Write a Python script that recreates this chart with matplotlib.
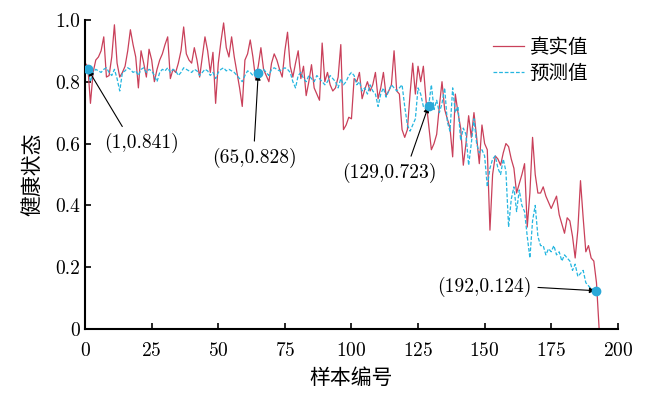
import matplotlib
matplotlib.use("Agg")
import matplotlib.pyplot as plt

plt.rcParams['font.family'] = ['cmr10', 'Noto Sans CJK SC']
plt.rcParams['axes.formatter.use_mathtext'] = True

# 真实值 (sample 0..193)
true_vals = [
    0.86, 0.85, 0.73, 0.83, 0.87, 0.88, 0.90, 0.945, 0.815, 0.82,
    0.88, 0.984, 0.86, 0.815, 0.83, 0.85, 0.90, 0.968, 0.92, 0.88,
    0.78, 0.90, 0.86, 0.815, 0.905, 0.87, 0.80, 0.84, 0.87, 0.89,
    0.92, 0.945, 0.81, 0.84, 0.83, 0.86, 0.90, 0.977, 0.89, 0.87,
    0.86, 0.91, 0.87, 0.815, 0.88, 0.945, 0.90, 0.83, 0.895, 0.73,
    0.86, 0.93, 0.99, 0.91, 0.88, 0.945, 0.88, 0.83, 0.78, 0.72,
    0.87, 0.89, 0.935, 0.88, 0.81, 0.85, 0.91, 0.84, 0.82, 0.80,
    0.86, 0.89, 0.87, 0.84, 0.815, 0.90, 0.96, 0.85, 0.815, 0.86,
    0.90, 0.81, 0.85, 0.755, 0.80, 0.855, 0.78, 0.76, 0.74, 0.925,
    0.80, 0.83, 0.79, 0.77, 0.78, 0.815, 0.92, 0.645, 0.66, 0.685,
    0.68, 0.81, 0.80, 0.83, 0.745, 0.775, 0.80, 0.77, 0.79, 0.83,
    0.745, 0.78, 0.83, 0.755, 0.77, 0.79, 0.90, 0.77, 0.76, 0.645,
    0.62, 0.645, 0.76, 0.86, 0.76, 0.85, 0.80, 0.85, 0.74, 0.66,
    0.58, 0.60, 0.63, 0.72, 0.80, 0.71, 0.68, 0.65, 0.557, 0.76,
    0.70, 0.65, 0.53, 0.60, 0.69, 0.62, 0.70, 0.62, 0.535, 0.66,
    0.60, 0.58, 0.32, 0.50, 0.56, 0.55, 0.53, 0.57, 0.60, 0.59,
    0.55, 0.52, 0.44, 0.47, 0.50, 0.535, 0.33, 0.44, 0.62, 0.50,
    0.44, 0.44, 0.46, 0.43, 0.41, 0.39, 0.41, 0.43, 0.37, 0.34,
    0.31, 0.36, 0.35, 0.30, 0.23, 0.32, 0.48, 0.36, 0.25, 0.27,
    0.23, 0.22, 0.15, 0.0,
]

# 预测值 (sample 0..192)
pred_vals = [
    0.845, 0.841, 0.80, 0.83, 0.84, 0.835, 0.83, 0.84, 0.845, 0.83,
    0.82, 0.84, 0.81, 0.77, 0.83, 0.835, 0.845, 0.84, 0.83, 0.835,
    0.82, 0.84, 0.845, 0.83, 0.84, 0.835, 0.82, 0.80, 0.83, 0.84,
    0.835, 0.845, 0.83, 0.84, 0.835, 0.82, 0.83, 0.845, 0.84, 0.835,
    0.83, 0.84, 0.835, 0.82, 0.83, 0.84, 0.835, 0.82, 0.83, 0.81,
    0.83, 0.84, 0.845, 0.835, 0.84, 0.835, 0.83, 0.82, 0.81, 0.80,
    0.82, 0.835, 0.83, 0.82, 0.82, 0.828, 0.83, 0.84, 0.83, 0.82,
    0.84, 0.845, 0.84, 0.835, 0.84, 0.845, 0.84, 0.83, 0.80, 0.78,
    0.82, 0.83, 0.81, 0.80, 0.82, 0.81, 0.80, 0.82, 0.81, 0.80,
    0.79, 0.80, 0.82, 0.81, 0.80, 0.78, 0.81, 0.79, 0.80, 0.82,
    0.83, 0.82, 0.79, 0.80, 0.77, 0.78, 0.76, 0.79, 0.77, 0.76,
    0.72, 0.76, 0.78, 0.75, 0.77, 0.79, 0.78, 0.77, 0.78, 0.79,
    0.72, 0.66, 0.64, 0.66, 0.68, 0.78, 0.76, 0.72, 0.71, 0.723,
    0.79, 0.71, 0.74, 0.70, 0.73, 0.78, 0.67, 0.64, 0.78, 0.70,
    0.72, 0.61, 0.65, 0.63, 0.53, 0.60, 0.68, 0.60, 0.57, 0.58,
    0.56, 0.46, 0.52, 0.55, 0.56, 0.52, 0.50, 0.55, 0.51, 0.33,
    0.42, 0.46, 0.38, 0.45, 0.40, 0.38, 0.30, 0.23, 0.35, 0.40,
    0.30, 0.27, 0.27, 0.24, 0.26, 0.25, 0.27, 0.24, 0.25, 0.22,
    0.24, 0.23, 0.22, 0.19, 0.21, 0.17, 0.18, 0.19, 0.15, 0.14,
    0.13, 0.13, 0.124,
]

# annotated samples and where their labels sit
marked_idx = [1, 65, 129, 192]
label_pos = [(21.0, 0.602), (63.4, 0.553), (114.4, 0.505), (149.7, 0.136)]
arrow_rel = [(0.3, 1.0), (0.5, 1.0), (0.7, 1.0), (1.0, 0.5)]

red = '#c9405a'
blue = '#25b6e0'

fig = plt.figure(figsize=(6.65, 3.97), dpi=100)
ax = fig.add_axes([0.128, 0.171, 0.801, 0.779])

ax.plot(range(len(true_vals)), true_vals, color=red, lw=0.9, label='真实值')
ax.plot(range(len(pred_vals)), pred_vals, color=blue, lw=0.9, ls='--', dashes=(3, 1.5), label='预测值')

for i, pos, rel in zip(marked_idx, label_pos, arrow_rel):
    yv = pred_vals[i]
    ax.plot(i, yv, 'o', color='#2aa8d8', ms=6, zorder=5)
    ax.annotate('(%d,%.3f)' % (i, yv), xy=(i, yv), xytext=pos,
                fontsize=14, ha='center', va='center',
                arrowprops=dict(arrowstyle='-|>', color='black', lw=0.8,
                                mutation_scale=8, relpos=rel, shrinkA=3, shrinkB=1))

ax.set_xlim(0, 200)
ax.set_ylim(0, 1.0)
ax.set_xticks([0, 25, 50, 75, 100, 125, 150, 175, 200])
ax.set_yticks([0, 0.2, 0.4, 0.6, 0.8, 1.0])
ax.set_yticklabels(['0', '0.2', '0.4', '0.6', '0.8', '1.0'])
ax.tick_params(direction='in', labelsize=14, width=1.2, length=4)
ax.tick_params(axis='x', pad=9)
ax.spines['top'].set_visible(False)
ax.spines['right'].set_visible(False)
ax.spines['left'].set_linewidth(1.5)
ax.spines['bottom'].set_linewidth(1.5)

ax.set_xlabel('样本编号', fontsize=15, labelpad=6)
ax.set_ylabel('健康状态', fontsize=15, labelpad=9)

ax.legend(loc='upper left', bbox_to_anchor=(0.765, 0.94), frameon=False, fontsize=14,
          handlelength=1.6, handletextpad=0.3, labelspacing=0.4,
          borderpad=0, borderaxespad=0)

fig.savefig('out.png', dpi=100)
